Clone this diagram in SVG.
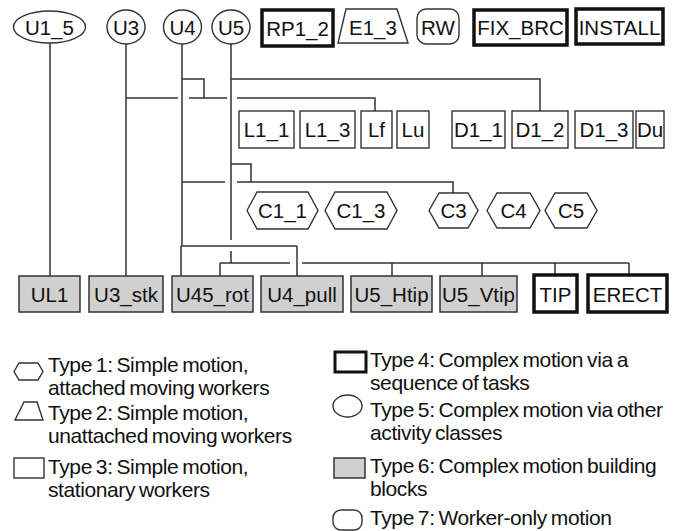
<svg xmlns="http://www.w3.org/2000/svg" width="679" height="531" viewBox="0 0 679 531">
<style>
text{font-family:"Liberation Sans",Arial,sans-serif;font-size:20.5px;fill:#111}
.lbl{text-anchor:middle}
.thin{fill:#fff;stroke:#333;stroke-width:1.4}
.thick{fill:#fff;stroke:#111;stroke-width:3.5}
.gray{fill:#d0d0d0;stroke:#333;stroke-width:1.5}
.con{fill:none;stroke:#333;stroke-width:1.5}
.leg{font-size:21px;letter-spacing:-0.4px;word-spacing:-1.5px}
</style>
<rect width="679" height="531" fill="#fff"/>
<g id="connectors" class="con">
<path d="M50 43V276"/>
<path d="M126 44V276"/>
<path d="M126 98H178M189 98H227M237 98H375V111"/>
<path d="M182 79H204V98"/>
<path d="M182 44V246M181 246H297M181 246V276M297 246V276"/>
<path d="M182 182H225M237 182H453V193"/>
<path d="M231 44V240M231 251V263"/>
<path d="M220 263H290M302 263H629M220 263V276M392 263V276M482 263V276M555 263V274M629 263V274"/>
<path d="M231 79H540V111"/>
<path d="M231 164H251V182"/>
</g>
<g id="U1_5"><ellipse class="thin" cx="49.5" cy="27" rx="36" ry="16"/><text class="lbl" x="49.5" y="34.5">U1_5</text></g>
<g id="U3"><ellipse class="thin" cx="126" cy="27" rx="19" ry="17"/><text class="lbl" x="126" y="34.5">U3</text></g>
<g id="U4"><ellipse class="thin" cx="182.5" cy="27" rx="19" ry="17"/><text class="lbl" x="182.5" y="34.5">U4</text></g>
<g id="U5"><ellipse class="thin" cx="231" cy="27" rx="19" ry="17"/><text class="lbl" x="231" y="34.5">U5</text></g>
<g id="RP1_2"><rect class="thick" x="262" y="10" width="71" height="36"/><text class="lbl" x="297.5" y="35.5">RP1_2</text></g>
<g id="E1_3"><polygon class="thin" points="346,9 397,9 408,43 338,43"/><text class="lbl" x="373" y="34.5">E1_3</text></g>
<g id="RW"><rect class="thin" x="417" y="9" width="42" height="35" rx="9"/><text class="lbl" x="438" y="34.5">RW</text></g>
<g id="FIX_BRC"><rect class="thick" x="474" y="10" width="93" height="35"/><text class="lbl" x="520.5" y="35">FIX_BRC</text></g>
<g id="INSTALL"><rect class="thick" x="576" y="9" width="87" height="35"/><text class="lbl" x="619.5" y="34.5">INSTALL</text></g>
<g id="L1_1"><rect class="thin" x="239" y="111" width="55" height="37"/><text class="lbl" x="266.5" y="137">L1_1</text></g>
<g id="L1_3"><rect class="thin" x="300" y="111" width="55" height="37"/><text class="lbl" x="327.5" y="137">L1_3</text></g>
<g id="Lf"><rect class="thin" x="361" y="111" width="31" height="37"/><text class="lbl" x="376.5" y="137">Lf</text></g>
<g id="Lu"><rect class="thin" x="397" y="111" width="32" height="37"/><text class="lbl" x="413" y="137">Lu</text></g>
<g id="D1_1"><rect class="thin" x="452" y="111" width="53" height="37"/><text class="lbl" x="478.5" y="137">D1_1</text></g>
<g id="D1_2"><rect class="thin" x="512" y="111" width="56" height="37"/><text class="lbl" x="540" y="137">D1_2</text></g>
<g id="D1_3"><rect class="thin" x="575" y="111" width="58" height="37"/><text class="lbl" x="604" y="137">D1_3</text></g>
<g id="Du"><rect class="thin" x="636" y="111" width="28" height="37"/><text class="lbl" x="650" y="137">Du</text></g>
<g id="C1_1"><polygon class="thin" points="247,210.5 257,192 308,192 318,210.5 308,229 257,229"/><text class="lbl" x="282.5" y="218">C1_1</text></g>
<g id="C1_3"><polygon class="thin" points="325,210.5 335,192 387,192 397,210.5 387,229 335,229"/><text class="lbl" x="361" y="218">C1_3</text></g>
<g id="C3"><polygon class="thin" points="429,210.5 439,193 468,193 478,210.5 468,228 439,228"/><text class="lbl" x="453.5" y="218">C3</text></g>
<g id="C4"><polygon class="thin" points="487,210.5 497,193 530,193 540,210.5 530,228 497,228"/><text class="lbl" x="513.5" y="218">C4</text></g>
<g id="C5"><polygon class="thin" points="545,210.5 555,193 587,193 597,210.5 587,228 555,228"/><text class="lbl" x="571" y="218">C5</text></g>
<g id="UL1"><rect class="gray" x="19" y="276" width="61" height="36"/><text class="lbl" x="49.5" y="301.5">UL1</text></g>
<g id="U3_stk"><rect class="gray" x="89" y="276" width="74" height="36"/><text class="lbl" x="126" y="301.5">U3_stk</text></g>
<g id="U45_rot"><rect class="gray" x="172" y="276" width="81" height="36"/><text class="lbl" x="212.5" y="301.5">U45_rot</text></g>
<g id="U4_pull"><rect class="gray" x="261" y="276" width="82" height="36"/><text class="lbl" x="302" y="301.5">U4_pull</text></g>
<g id="U5_Htip"><rect class="gray" x="351" y="276" width="81" height="36"/><text class="lbl" x="391.5" y="301.5">U5_Htip</text></g>
<g id="U5_Vtip"><rect class="gray" x="440" y="276" width="77" height="36"/><text class="lbl" x="478.5" y="301.5">U5_Vtip</text></g>
<g id="TIP"><rect class="thick" x="534" y="275" width="43" height="37"/><text class="lbl" x="555.5" y="301.5">TIP</text></g>
<g id="ERECT"><rect class="thick" x="588" y="275" width="79" height="37"/><text class="lbl" x="627.5" y="301.5">ERECT</text></g>
<g id="legend">
<polygon class="thin" points="14,371.5 19,363 38,363 43,371.5 38,380 19,380"/>
<text class="leg" x="48" y="372">Type 1: Simple motion,</text>
<text class="leg" x="48" y="395">attached moving workers</text>
<polygon class="thin" points="24,402 37,402 43,420 15,420"/>
<text class="leg" x="48" y="420">Type 2: Simple motion,</text>
<text class="leg" x="48" y="443">unattached moving workers</text>
<rect class="thin" x="14" y="458" width="30" height="20"/>
<text class="leg" x="48" y="474">Type 3: Simple motion,</text>
<text class="leg" x="48" y="497">stationary workers</text>
<rect class="thick" x="335" y="352" width="31" height="20" style="stroke-width:3"/>
<text class="leg" x="370" y="367">Type 4: Complex motion via a</text>
<text class="leg" x="370" y="390">sequence of tasks</text>
<ellipse class="thin" cx="347.5" cy="406" rx="14.5" ry="11"/>
<text class="leg" x="370" y="417">Type 5: Complex motion via other</text>
<text class="leg" x="370" y="440">activity classes</text>
<rect class="gray" x="334" y="458" width="31" height="20"/>
<text class="leg" x="370" y="473">Type 6: Complex motion building</text>
<text class="leg" x="370" y="496">blocks</text>
<rect class="thin" x="333" y="510" width="29" height="20" rx="8"/>
<text class="leg" x="370" y="525">Type 7: Worker-only motion</text>
</g>
</svg>
